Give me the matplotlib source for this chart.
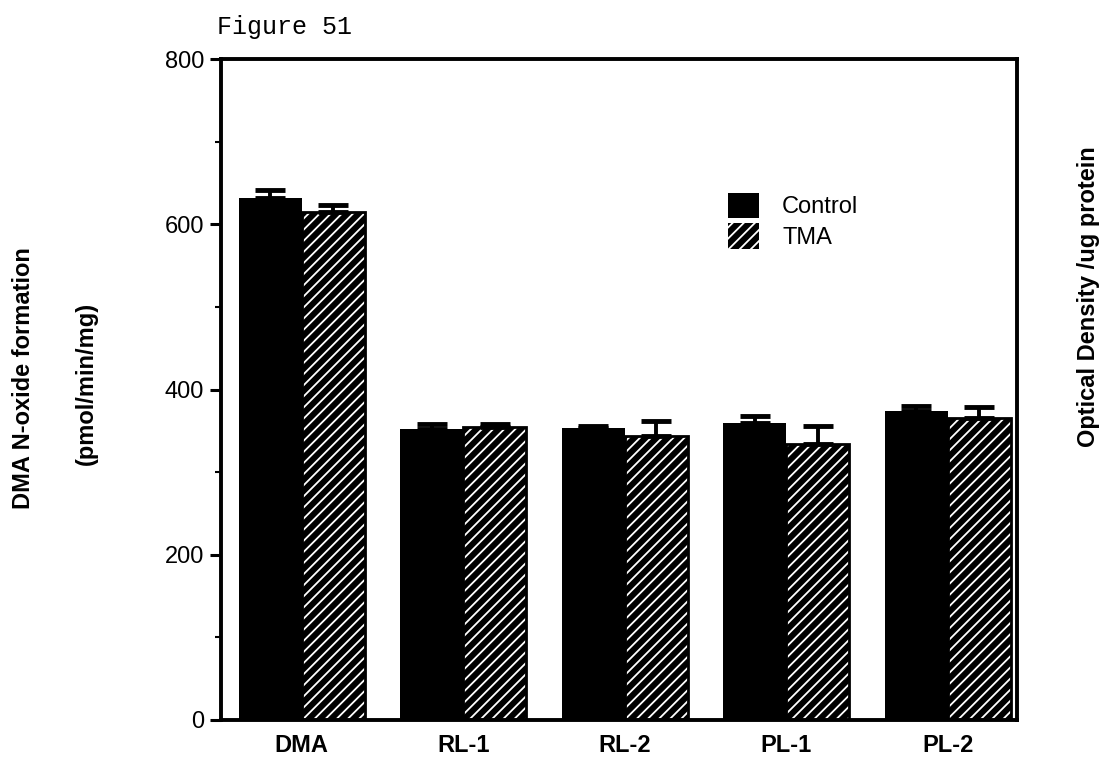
import matplotlib.pyplot as plt
import numpy as np
from matplotlib.patches import Patch

# --- Data ---
groups = ['DMA', 'RL-1', 'RL-2', 'PL-1', 'PL-2']
control = [632, 352, 353, 360, 374]
control_err = [10, 6, 3, 8, 6]
tma = [615, 355, 344, 334, 365]
tma_err = [8, 3, 18, 22, 14]

plt.rcParams['font.family'] = ['Liberation Sans', 'DejaVu Sans']
plt.rcParams['hatch.color'] = 'white'
plt.rcParams['hatch.linewidth'] = 1.3

fig = plt.figure(figsize=(11.19, 7.68), dpi=100, facecolor='white')
ax = fig.add_axes([221 / 1119, 1 - 720 / 768, (1017 - 221) / 1119, (720 - 59) / 768])

x = np.arange(len(groups))
w = 0.39

# control bars: solid black
ax.bar(x - w / 2, control, width=w, color='black', zorder=2)
# TMA bars: black with white diagonal hatch, black outline on top
ax.bar(x + w / 2, tma, width=w, color='black', hatch='///', zorder=2)
ax.bar(x + w / 2, tma, width=w, fill=False, edgecolor='black', linewidth=2, zorder=3)

# upward-only error bars
zeros = np.zeros(len(groups))
ax.errorbar(x - w / 2, control, yerr=[zeros, control_err], fmt='none', ecolor='black',
            elinewidth=2.8, capsize=11, capthick=3.5, zorder=4)
ax.errorbar(x + w / 2, tma, yerr=[zeros, tma_err], fmt='none', ecolor='black',
            elinewidth=2.8, capsize=11, capthick=3.5, zorder=4)

ax.set_xlim(-0.5, 4.43)
ax.set_ylim(0, 800)
ax.set_yticks([0, 200, 400, 600, 800])
ax.set_yticks([100, 300, 500, 700], minor=True)
ax.set_xticks(x)
ax.set_xticklabels(groups, fontweight='bold', fontsize=17)
ax.tick_params(axis='x', length=0, pad=10)
ax.tick_params(axis='y', which='major', length=8, width=2.2, labelsize=17, pad=4)
ax.tick_params(axis='y', which='minor', length=4, width=1.5)
for s in ax.spines.values():
    s.set_linewidth(2.8)

# legend
handles = [Patch(facecolor='black', label='Control'),
           Patch(facecolor='black', hatch='///', label='TMA')]
ax.legend(handles=handles, loc='upper left', bbox_to_anchor=(0.61, 0.83), frameon=False,
          fontsize=17, handlelength=1.3, handleheight=1.3, handletextpad=1.0,
          labelspacing=0.2)

# axis labels and header
fig.text(24 / 1119, 1 - 378 / 768, 'DMA N-oxide formation', rotation=90,
         ha='center', va='center', fontsize=17, fontweight='bold')
fig.text(86 / 1119, 1 - 383 / 768, '(pmol/min/mg)', rotation=90,
         ha='center', va='center', fontsize=17, fontweight='bold')
fig.text(1088 / 1119, 1 - 297 / 768, 'Optical Density /ug protein', rotation=90,
         ha='center', va='center', fontsize=17, fontweight='bold')
fig.text(217 / 1119, 1 - 27 / 768, 'Figure 51', ha='left', va='center',
         fontsize=18, family=['Liberation Mono', 'DejaVu Sans Mono'])

fig.savefig('out.png', dpi=100, facecolor='white')
